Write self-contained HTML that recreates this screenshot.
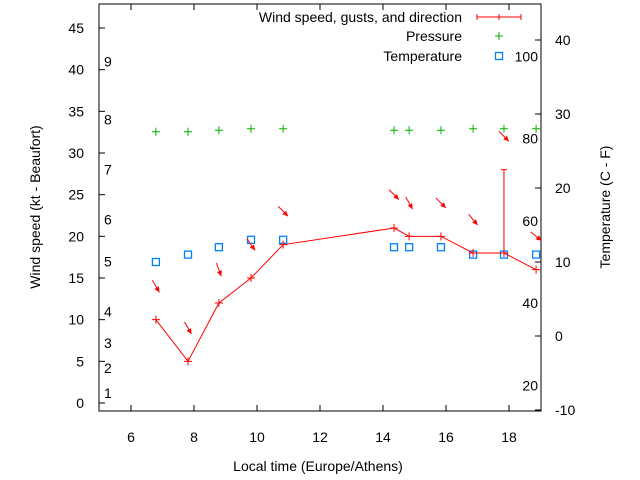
<!DOCTYPE html>
<html><head><meta charset="utf-8"><style>
body{margin:0;background:#fff;}
svg{display:block;font-family:"Liberation Sans",sans-serif;}
</style></head><body>
<svg id="c" width="640" height="480" viewBox="0 0 640 480"></svg>
<script>
const times=[6.79,7.81,8.79,9.81,10.83,14.35,14.83,15.84,16.86,17.84,18.86];
const windSpeed=[10,5,12,15,19,21,20,20,18,18,16];
const gusts=[null,null,null,null,null,null,null,null,null,28,null];
const windDir=[330,330,340,325,315,315,330,315,320,315,310];
const tempC=[10,11,12,13,13,12,12,12,11,11,11];
const pressure=[27.6,27.6,27.8,28.0,28.0,27.8,27.8,27.8,28.0,28.0,28.0];
const xTicks=[6,8,10,12,14,16,18];
const yLeftTicks=[0,5,10,15,20,25,30,35,40,45];
const yRightTicks=[-10,0,10,20,30,40];
const beaufortLabels=["1","2","3","4","5","6","7","8","9"];
const beaufortKt=[1.2,4.2,7.2,11,17,22,28,34,41];
const fahrenheitLabels=[20,40,60,80,100];

const L=99,R=541,T=4,B=411;
const X=v=>131+(v-6)*31.5;
const Y=v=>403-v*8.333;
const YR=v=>410-(v+10)*7.4;
const YF=f=>YR((f-32)*5/9);
const svg=document.getElementById('c');
const NS='http://www.w3.org/2000/svg';
function mk(tag,attrs,parent){const e=document.createElementNS(NS,tag);for(const k in attrs)e.setAttribute(k,attrs[k]);(parent||svg).appendChild(e);return e;}
function txt(x,y,s,anchor,size){const e=mk('text',{x:x,y:y,'text-anchor':anchor||'middle','font-size':size||14,fill:'#000'});e.textContent=s;return e;}

// frame
const fr=mk('rect',{x:L,y:T,width:R-L,height:B-T,fill:'none',stroke:'#000','stroke-width':1});



xTicks.forEach(t=>{
  const x=X(t);
  const l=mk('line',{x1:x,y1:B,x2:x,y2:B-6,stroke:'#000'});
  
  
  mk('line',{x1:x,y1:T,x2:x,y2:T+6,stroke:'#000'});
  const t2=txt(x,442,String(t));
  
  
});
yLeftTicks.forEach(t=>{
  const y=Y(t);
  mk('line',{x1:L,y1:y,x2:L+6,y2:y,stroke:'#000'});
  const e=txt(84,y+5,String(t),'end');
  
  
});
yRightTicks.forEach(t=>{
  const y=YR(t);
  mk('line',{x1:R,y1:y,x2:R-6,y2:y,stroke:'#000'});
  const e=txt(555,y+5,String(t),'start');
  
  
});
beaufortLabels.forEach((s,i)=>{
  const e=txt(104,Y(beaufortKt[i])+5,s,'start');
  
  
});
fahrenheitLabels.forEach(f=>{
  const e=txt(538,YF(f)+5,String(f),'end');
  
  
});

let e=txt(318,471,'Local time (Europe/Athens)');


e=txt(0,0,'Wind speed (kt - Beaufort)');
e.setAttribute('transform','translate(40,207) rotate(-90)');


e=txt(0,0,'Temperature (C - F)');
e.setAttribute('transform','translate(610,207) rotate(-90)');



function plus(x,y,c,name){const g=mk('path',{d:`M${x-4},${y}H${x+4}M${x},${y-4}V${y+4}`,stroke:c,'stroke-width':1});return g;}

// pressure
times.forEach((t,i)=>plus(X(t),YR(pressure[i]),'#00b000','pressure-point'));
// temperature
times.forEach((t,i)=>{
  const r=mk('rect',{x:X(t)-3.5,y:YR(tempC[i])-3.5,width:7,height:7,fill:'none',stroke:'#0080ff','stroke-width':1.3});
  
  
});
// wind line
const pl=mk('polyline',{points:times.map((t,i)=>X(t)+','+Y(windSpeed[i])).join(' '),fill:'none',stroke:'#f00','stroke-width':1});


times.forEach((t,i)=>{
  plus(X(t),Y(windSpeed[i]),'#f00','wind-speed-point');
  if(gusts[i]!=null){
    const x=X(t);
    const g=mk('path',{d:`M${x},${Y(windSpeed[i])}V${Y(gusts[i])}M${x-3},${Y(gusts[i])}H${x+3}`,stroke:'#f00','stroke-width':1});
    
    
  }
  // arrow
  const top=Math.max(windSpeed[i],gusts[i]||0)+4;
  const cx=X(t),cy=Y(top);
  const a=(windDir[i]+180)*Math.PI/180; // direction wind blows to
  const dx=Math.sin(a)*7,dy=-Math.cos(a)*7;
  const x1=cx-dx,y1=cy-dy,x2=cx+dx,y2=cy+dy;
  const ang=Math.atan2(y2-y1,x2-x1);
  const h=6,w=0.45;
  const p1=[x2-h*Math.cos(ang-w),y2-h*Math.sin(ang-w)];
  const p2=[x2-h*Math.cos(ang+w),y2-h*Math.sin(ang+w)];
  const ar=mk('g',{});
  
  
  mk('line',{x1:x1,y1:y1,x2:x2,y2:y2,stroke:'#f00','stroke-width':1},ar);
  mk('polygon',{points:`${x2},${y2} ${p1[0]},${p1[1]} ${p2[0]},${p2[1]}`,fill:'#f00'},ar);
});

// legend
const lg=mk('g',{});


[['Wind speed, gusts, and direction',22],['Pressure',41],['Temperature',61]].forEach((r,i)=>{
  const t=mk('text',{x:462,y:r[1],'text-anchor':'end','font-size':14},lg);
  t.textContent=r[0];
  
  
});
mk('path',{d:'M477,17H521M477,14V20M521,14V20M499,14V20',stroke:'#f00','stroke-width':1},lg);
mk('path',{d:'M495,36H503M499,32V40',stroke:'#00b000','stroke-width':1},lg);
mk('rect',{x:495.5,y:52.5,width:7,height:7,fill:'none',stroke:'#0080ff','stroke-width':1.3},lg);
</script>
</body></html>
